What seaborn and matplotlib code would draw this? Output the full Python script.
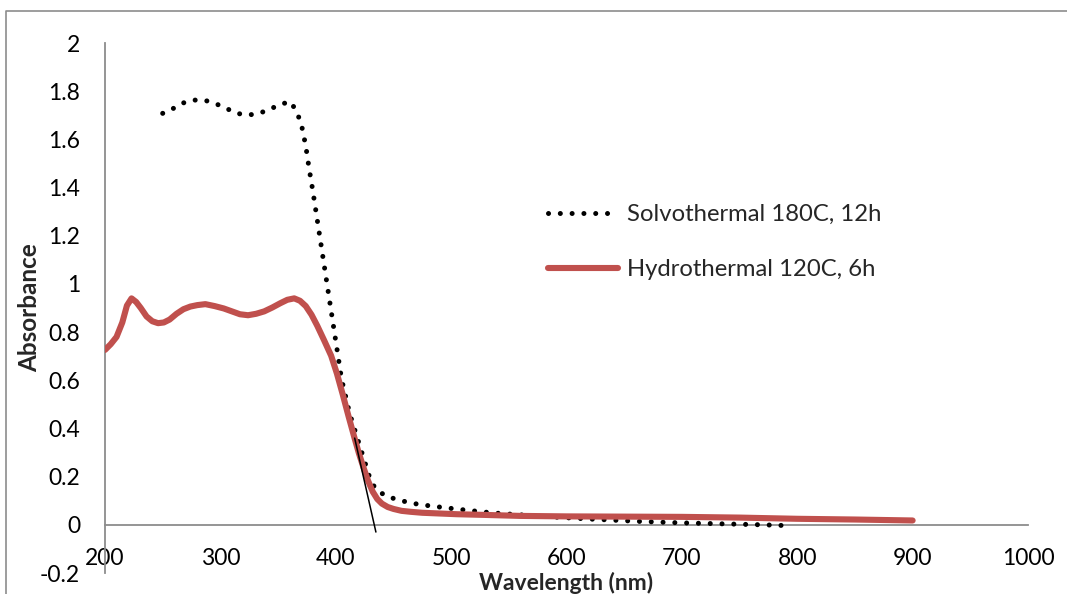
import matplotlib
matplotlib.use("Agg")
import matplotlib.pyplot as plt
import seaborn as sns
import pandas as pd
from matplotlib.lines import Line2D

# UV-Vis absorbance spectra of the two samples
solvo_nm = [250, 258, 267, 276, 286, 296, 305, 314, 324, 333, 343, 352, 361, 366,
            370, 374, 377, 380, 405, 412, 430, 435, 444, 453, 463, 473, 483, 493,
            513, 533, 543, 583, 620, 664, 700, 745, 770, 796]
solvo_abs = [1.708, 1.725, 1.750, 1.763, 1.763, 1.748, 1.729, 1.708, 1.701, 1.707,
             1.725, 1.746, 1.756, 1.715, 1.667, 1.573, 1.476, 1.390, 0.606, 0.463,
             0.187, 0.145, 0.119, 0.105, 0.093, 0.084, 0.078, 0.072, 0.061, 0.051,
             0.047, 0.034, 0.024, 0.014, 0.008, 0.003, 0.000, -0.004]

hydro_nm = [200, 205, 210, 215, 219, 223, 227, 231, 236, 241, 246, 251, 256, 262,
            268, 274, 280, 287, 295, 303, 310, 317, 324, 331, 338, 345, 352, 358,
            364, 369, 374, 379, 384, 390, 396, 401, 406, 411, 416, 420, 424, 428,
            432, 436, 440, 445, 450, 457, 465, 475, 490, 505, 530, 560, 600, 650,
            700, 750, 800, 850, 900]
hydro_abs = [0.726, 0.750, 0.780, 0.840, 0.910, 0.940, 0.925, 0.900, 0.865, 0.845,
             0.837, 0.840, 0.852, 0.876, 0.895, 0.906, 0.912, 0.916, 0.908, 0.898,
             0.886, 0.874, 0.870, 0.876, 0.886, 0.902, 0.920, 0.934, 0.940, 0.930,
             0.908, 0.872, 0.826, 0.765, 0.702, 0.628, 0.542, 0.452, 0.365, 0.298,
             0.238, 0.183, 0.138, 0.107, 0.088, 0.074, 0.066, 0.058, 0.054, 0.050,
             0.047, 0.044, 0.041, 0.037, 0.035, 0.034, 0.033, 0.030, 0.025, 0.022,
             0.018]

# Band-edge tangent used to estimate the absorption onset
tangent_nm = [416.4, 434.8]
tangent_abs = [0.36, -0.03]

solvo_label = "Solvothermal 180C, 12h"
hydro_label = "Hydrothermal 120C, 6h"
x_ticks = [200, 300, 400, 500, 600, 700, 800, 900, 1000]
y_ticks = [-0.2, 0, 0.2, 0.4, 0.6, 0.8, 1, 1.2, 1.4, 1.6, 1.8, 2]

sns.set_style("white")
plt.rcParams["font.family"] = ["Lato", "DejaVu Sans"]

RED = "#C0504D"
GREY = "#8C8C8C"
DOTS = (0, (0.01, 2.35))

fig = plt.figure(figsize=(10.67, 5.94), dpi=100)
ax = fig.add_axes([105 / 1067, 1 - 573 / 594, (1028 - 105) / 1067, (573 - 43) / 594])

solvo = pd.DataFrame({"nm": solvo_nm, "abs": solvo_abs})
hydro = pd.DataFrame({"nm": hydro_nm, "abs": hydro_abs})

sns.lineplot(data=solvo, x="nm", y="abs", ax=ax, color="black", lw=3.6,
             linestyle=DOTS, dash_capstyle="round",
             estimator=None, sort=False, zorder=3)
sns.lineplot(data=hydro, x="nm", y="abs", ax=ax, color=RED, lw=4.4,
             solid_capstyle="round", solid_joinstyle="round",
             estimator=None, sort=False, zorder=4)
ax.plot(tangent_nm, tangent_abs, color="black", lw=1.1, zorder=5)

ax.set_xlim(200, 1000)
ax.set_ylim(-0.2, 2)
ax.set_xticks(x_ticks)
ax.set_xticklabels([str(v) for v in x_ticks])
ax.set_yticks(y_ticks)
ax.set_yticklabels([f"{v:g}" for v in y_ticks])
ax.tick_params(axis="both", length=0, labelsize=16.5, colors="black")
ax.tick_params(axis="x", pad=17)
ax.tick_params(axis="y", pad=18)

for side in ("top", "right"):
    ax.spines[side].set_visible(False)
ax.spines["left"].set_color(GREY)
ax.spines["left"].set_linewidth(1.3)
ax.spines["bottom"].set_position(("data", 0))
ax.spines["bottom"].set_color(GREY)
ax.spines["bottom"].set_linewidth(1.3)
ax.set_xlabel("")
ax.set_ylabel("")

fig.text(30 / 1067, 1 - 308 / 594, "Absorbance", rotation=90, ha="center",
         va="center", fontsize=17.5, fontweight="bold")
fig.text(566 / 1067, 0.5 / 594, "Wavelength (nm)", ha="center",
         va="bottom", fontsize=16.5, fontweight="bold")

handles = [
    Line2D([], [], color="black", lw=3.6, linestyle=DOTS, dash_capstyle="round"),
    Line2D([], [], color=RED, lw=4.4, solid_capstyle="round"),
]
fig.legend(handles, [solvo_label, hydro_label], loc="upper left",
           bbox_to_anchor=(548 / 1067, 1 - 204 / 594), frameon=False,
           fontsize=17.2, handlelength=2.95, handletextpad=0.34,
           labelspacing=1.42, borderaxespad=0, borderpad=0)

# chart-area border
fig.add_artist(Line2D([6 / 1067, 6 / 1067, 1.0], [0.0, 1 - 10.5 / 594, 1 - 10.5 / 594],
                      transform=fig.transFigure, color=GREY, lw=1.2))

fig.savefig("out.png", dpi=100)
